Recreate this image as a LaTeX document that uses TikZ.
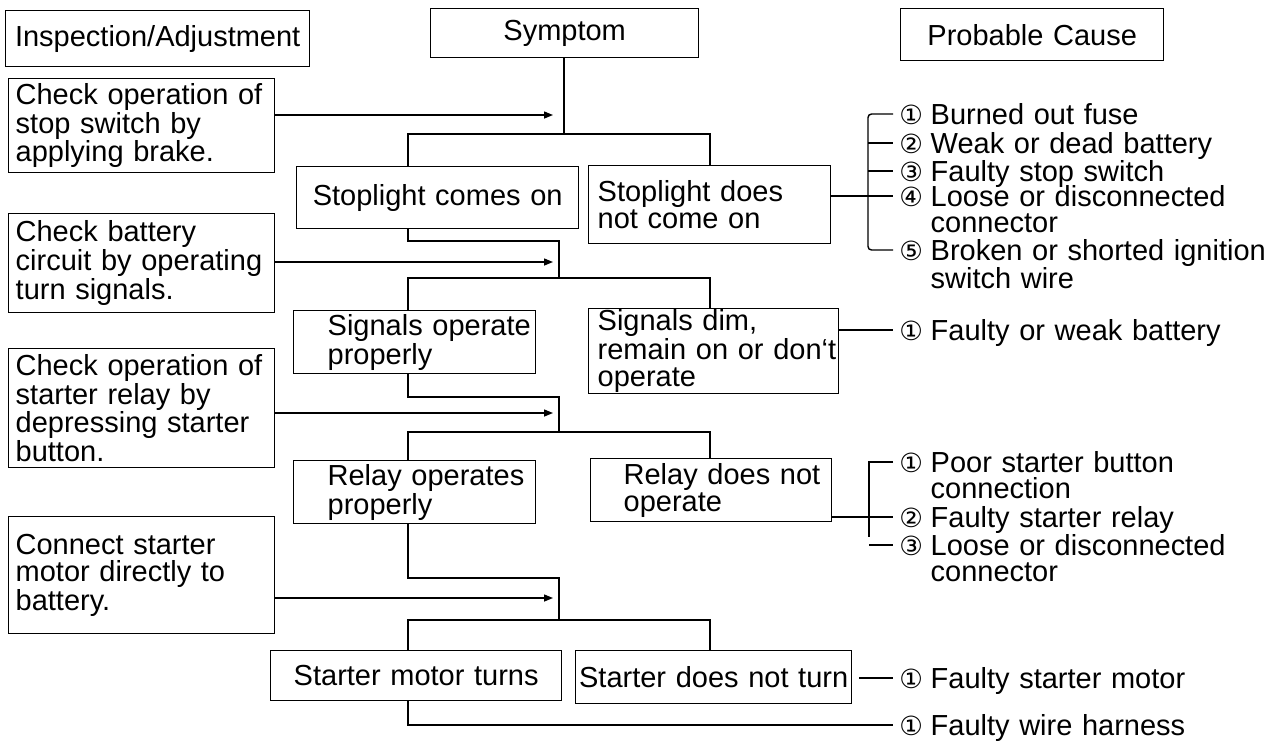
\documentclass[tikz,border=0pt]{standalone}
\usepackage{fontspec}
\setmainfont{Liberation Sans}
\newfontfamily\numfont{DejaVu Sans}
\usetikzlibrary{arrows.meta, calc}
\lineskiplimit=-20pt
\newcommand{\boxfont}{\fontsize{16.5pt}{15.3pt}\selectfont}
\newcommand{\numsize}{\numfont\fontsize{15pt}{15.3pt}\selectfont}

\begin{document}
\begin{tikzpicture}[
  x=0.02cm, y=-0.02cm,
  >={Triangle[length=1.8mm, width=1.4mm]},
  wire/.style={line width=0.8pt},
  arr/.style={wire, ->},
  box/.style={draw, line width=0.8pt, anchor=north west, inner ysep=0pt, font=\boxfont},
  headbox/.style={box, align=center, inner xsep=0pt},
  checkbox/.style={box, align=left, text width=5.04cm, inner xsep=0.14cm},
  symbox/.style={box, align=left},
  num/.style={anchor=base west, inner sep=0pt, font=\numsize},
  cause/.style={anchor=base west, inner sep=0pt, xshift=0.14cm, text width=7cm, align=left, font=\boxfont},
]

% Background
\fill[white] (0,0) rectangle (1272,744);
\useasboundingbox (0,0) rectangle (1272,744);

% === Column heads ===
\node[headbox, text width=6.08cm, minimum height=1.12cm] (insp) at (5,10) {Inspection/Adjustment};
\node[headbox, text width=5.36cm, minimum height=0.98cm] (symp) at (430,8) {Symptom};
\node[headbox, text width=5.26cm, minimum height=1.04cm] (cause) at (900,8) {Probable Cause};

% === Inspection steps ===
\node[checkbox, minimum height=1.88cm] (l1) at (8,78)
  {Check operation of\\stop switch by\\applying brake.};
\node[checkbox, minimum height=1.98cm] (l2) at (8,213)
  {Check battery\\circuit by operating\\turn signals.};
\node[checkbox, minimum height=2.38cm] (l3) at (8,348)
  {Check operation of\\starter relay by\\depressing starter\\button.};
\node[checkbox, minimum height=2.34cm] (l4) at (8,516)
  {Connect starter\\motor directly to\\battery.};

% === Symptoms ===
\node[headbox, text width=5.64cm, minimum height=1.24cm] (s1a) at (296,166) {Stoplight comes on};
\node[symbox, text width=4.48cm, inner xsep=0.18cm, minimum height=1.56cm] (s1b) at (588,165)
  {Stoplight does\\not come on};
\node[symbox, text width=3.48cm, inner xsep=0.68cm, minimum height=1.26cm] (s2a) at (293,310)
  {\mbox{Signals operate}\\properly};
\node[symbox, text width=4.64cm, inner xsep=0.18cm, minimum height=1.70cm] (s2b) at (588,308)
  {Signals dim,\\\mbox{remain on or don‘t}\\operate};
\node[symbox, text width=3.48cm, inner xsep=0.68cm, minimum height=1.26cm] (s3a) at (293,460)
  {\mbox{Relay operates}\\properly};
\node[symbox, text width=3.50cm, inner xsep=0.66cm, minimum height=1.26cm] (s3b) at (590,458)
  {\mbox{Relay does not}\\operate};
\node[headbox, text width=5.82cm, minimum height=1.00cm] (s4a) at (270,650) {Starter motor turns};
\node[headbox, text width=5.52cm, minimum height=1.06cm] (s4b) at (575,650) {Starter does not turn};

% joints of the tree
\coordinate (colL) at (408,0);
\coordinate (colR) at (710,0);
\coordinate (k1) at (564,134);
\coordinate (j2) at (559,241);
\coordinate (k2) at (559,278);
\coordinate (j3) at (559,397);
\coordinate (k3) at (559,432);
\coordinate (j4) at (559,578);
\coordinate (k4) at (559,620);
\coordinate (a1) at (553,115);
\coordinate (a2) at (553,262);
\coordinate (a3) at (553,413);
\coordinate (a4) at (553,598);

\draw[wire] (symp.south -| k1) -- (k1);
\draw[wire] (s1a.north -| colL) |- (k1) -| (s1b.north -| colR);
\draw[wire] (s1a.south -| colL) |- (j2) -- (k2);
\draw[wire] (s2a.north -| colL) |- (k2) -| (s2b.north -| colR);
\draw[wire] (s2a.south -| colL) |- (j3) -- (k3);
\draw[wire] (s3a.north -| colL) |- (k3) -| (s3b.north -| colR);
\draw[wire] (s3a.south -| colL) |- (j4) -- (k4);
\draw[wire] (s4a.north -| colL) |- (k4) -| (s4b.north -| colR);

% checks into the tree
\draw[arr] (l1.east |- a1) -- (a1);
\draw[arr] (l2.east |- a2) -- (a2);
\draw[arr] (l3.east |- a3) -- (a3);
\draw[arr] (l4.east |- a4) -- (a4);

% === Probable causes ===
% stoplight
\node[num] (n11) at (899,124) {①};
\node[cause] (c11) at (n11.base east) {Burned out fuse};
\node[num] (n12) at (899,153) {②};
\node[cause] (c12) at (n12.base east) {Weak or dead battery};
\node[num] (n13) at (899,181) {③};
\node[cause] (c13) at (n13.base east) {Faulty stop switch};
\node[num] (n14) at (899,206) {④};
\node[cause] (c14) at (n14.base east) {Loose or disconnected\\connector};
\node[num] (n15) at (899,260) {⑤};
\node[cause] (c15) at (n15.base east) {Broken or shorted ignition\\switch wire};
% signals
\node[num] (n21) at (899,340) {①};
\node[cause] (c21) at (n21.base east) {Faulty or weak battery};
% relay
\node[num] (n31) at (899,472) {①};
\node[cause] (c31) at (n31.base east) {Poor starter button\\connection};
\node[num] (n32) at (899,527) {②};
\node[cause] (c32) at (n32.base east) {Faulty starter relay};
\node[num] (n33) at (899,555) {③};
\node[cause] (c33) at (n33.base east) {Loose or disconnected\\connector};
% starter
\node[num] (n41) at (899,688) {①};
\node[cause] (c41) at (n41.base east) {Faulty starter motor};
\node[num] (n51) at (899,735) {①};
\node[cause] (c51) at (n51.base east) {Faulty wire harness};

\foreach \n in {11,12,13,14,15,21,31,32,33,41,51}
  \coordinate (t\n) at ([xshift=-0.12cm, yshift=0.2cm]n\n.base west);
\coordinate (br) at (868,0);
\coordinate (br3) at (869,537);

\draw[wire, rounded corners=2pt] (t11) -| (br |- t15) -- (t15);
\foreach \t in {t12,t13,t14}
  \draw[wire] (br |- \t) -- (\t);
\draw[wire] (s1b.east |- t14) -- (br |- t14);

\draw[wire] (s2b.east |- t21) -- (t21);

\draw[wire] (t31) -| (br3);
\draw[wire] (s3b.east |- t32) -- (t32);
\draw[wire] (br3 |- t33) -- (t33);

\draw[wire, shorten <=0.14cm] (s4b.east |- t41) -- (t41);
\draw[wire] (s4a.south -| colL) |- (t51);

\end{tikzpicture}
\end{document}
